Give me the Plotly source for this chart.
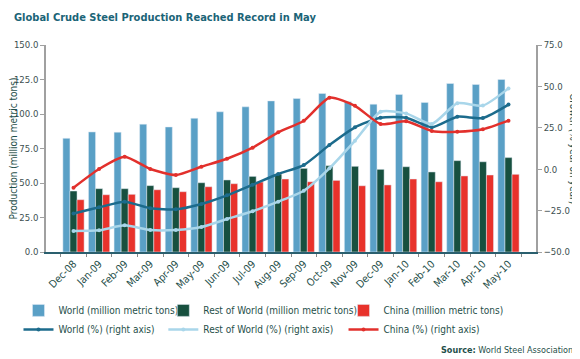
import plotly.graph_objects as go

months = ["Dec-08", "Jan-09", "Feb-09", "Mar-09", "Apr-09", "May-09", "Jun-09", "Jul-09", "Aug-09",
          "Sep-09", "Oct-09", "Nov-09", "Dec-09", "Jan-10", "Feb-10", "Mar-10", "Apr-10", "May-10"]

world_prod = [82.4, 87.0, 86.8, 92.6, 90.6, 96.9, 101.6, 105.2, 109.5,
              111.2, 114.9, 108.8, 107.1, 114.2, 108.4, 122.1, 121.4, 125.0]
row_prod = [44.2, 45.9, 45.9, 48.1, 46.6, 50.2, 52.2, 54.8, 56.5,
            60.6, 62.6, 62.1, 59.9, 61.8, 58.0, 66.2, 65.4, 68.4]
china_prod = [37.9, 41.5, 41.8, 45.1, 43.7, 47.3, 49.5, 50.7, 52.9,
              50.9, 51.9, 48.0, 48.6, 52.9, 50.9, 55.1, 55.8, 56.3]

world_pct = [-26.7, -23.0, -19.6, -23.6, -24.2, -21.0, -15.8, -9.4, -2.9,
             2.5, 14.6, 25.3, 31.1, 31.1, 25.3, 31.7, 30.9, 39.0]
row_pct = [-37.3, -36.9, -33.9, -36.7, -36.7, -34.9, -30.1, -25.4, -19.6,
           -13.0, 0.5, 17.2, 34.7, 33.7, 27.3, 39.8, 38.4, 48.8]
china_pct = [-11.2, 0.1, 7.5, 0.1, -3.5, 1.5, 6.3, 13.0, 22.3,
             29.3, 43.2, 38.3, 27.3, 28.9, 23.1, 22.6, 24.1, 29.3]

C_WORLD = "#5aa0c6"
C_ROW = "#17503f"
C_CHINA = "#e8322b"
C_WORLD_L = "#1c6b8c"
C_ROW_L = "#a9d6ea"
C_CHINA_L = "#e2302c"
TXT = "#1f4f4a"
FONT = "DejaVu Sans Condensed, Liberation Sans Narrow, sans-serif"

fig = go.Figure()
fig.add_bar(x=months, y=world_prod, name="World (million metric tons)", marker_color=C_WORLD,
            legend="legend")
fig.add_bar(x=months, y=row_prod, name="Rest of World (million metric tons)", marker_color=C_ROW,
            legend="legend2")
fig.add_bar(x=months, y=china_prod, name="China (million metric tons)", marker_color=C_CHINA,
            legend="legend3")

line_kw = dict(mode="lines+markers", yaxis="y2", line=dict(width=2.5, shape="spline", smoothing=0.6))
fig.add_scatter(x=months, y=world_pct, name="World (%) (right axis)", legend="legend",
                marker=dict(color=C_WORLD_L, size=4), line_color=C_WORLD_L, **line_kw)
fig.add_scatter(x=months, y=row_pct, name="Rest of World (%) (right axis)", legend="legend2",
                marker=dict(color=C_ROW_L, size=4), line_color=C_ROW_L, **line_kw)
fig.add_scatter(x=months, y=china_pct, name="China (%) (right axis)", legend="legend3",
                marker=dict(color=C_CHINA_L, size=4), line_color=C_CHINA_L, **line_kw)

leg_common = dict(orientation="v", yanchor="top", y=-0.212, xanchor="left",
                  font=dict(family=FONT, size=10, color=TXT), bgcolor="rgba(0,0,0,0)",
                  tracegroupgap=0, itemwidth=30)
fig.update_layout(
    width=572, height=351,
    margin=dict(l=37, r=44, t=37, b=107),
    paper_bgcolor="white", plot_bgcolor="white",
    font=dict(family=FONT, color=TXT, size=10),
    barmode="group", bargap=0.17, bargroupgap=0,
    showlegend=True,
    legend=dict(x=-0.054, **leg_common),
    legend2=dict(x=0.241, **leg_common),
    legend3=dict(x=0.608, **leg_common),
    xaxis=dict(tickangle=-45, tickson="boundaries", ticks="outside", ticklen=3, tickcolor="#888",
               showline=True, linecolor="#2a5f6e", linewidth=1.5, showgrid=False, automargin=False,
               tickfont=dict(family=FONT, size=10.5, color=TXT)),
    yaxis=dict(range=[0, 150], dtick=25, tickformat=".1f", showgrid=False, zeroline=False,
               showline=True, linecolor="#a0a0a0", linewidth=1.5, ticks="outside", ticklen=4,
               tickcolor="#a0a0a0", tickfont=dict(family=FONT, size=9.5, color="#3c4f50"),
               automargin=False,
               title=dict(text="Production (million metric tons)", standoff=4,
                          font=dict(family=FONT, size=10, color=TXT))),
    yaxis2=dict(range=[-50, 75], dtick=25, tickformat=".1f", overlaying="y", side="right",
                showgrid=False, zeroline=False, showline=True, linecolor="#a0a0a0", linewidth=1.5,
                ticks="outside", ticklen=4, tickcolor="#a0a0a0", automargin=False,
                tickfont=dict(family=FONT, size=9.5, color="#3c4f50")),
    annotations=[
        dict(text="<b>Global Crude Steel Production Reached Record in May</b>", xref="paper",
             yref="paper", x=-0.07, y=1.172, xanchor="left", yanchor="top", showarrow=False,
             font=dict(family=FONT, size=11, color="#1b6477")),
        dict(text="Growth (% year on year)", xref="paper", yref="paper", x=1.076, y=0.5,
             textangle=90, showarrow=False, xanchor="center", yanchor="middle",
             font=dict(family=FONT, size=10, color=TXT)),
        dict(text="<b>Source:</b> World Steel Association", xref="paper", yref="paper",
             x=1.079, y=-0.473, xanchor="right", yanchor="middle", showarrow=False,
             font=dict(family=FONT, size=9, color=TXT)),
    ],
)

fig.write_html("out.html")
